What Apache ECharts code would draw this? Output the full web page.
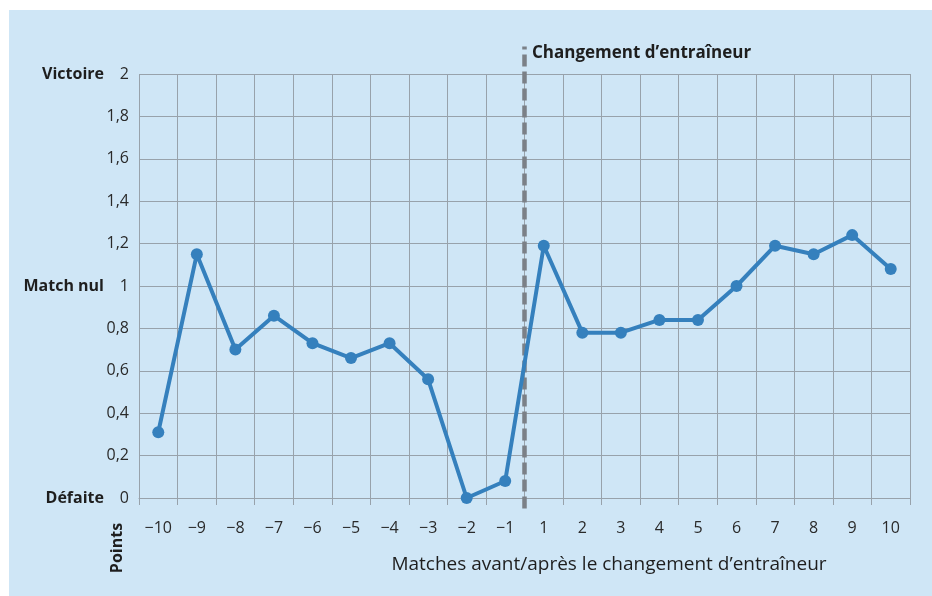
<!DOCTYPE html>
<html>
<head>
<meta charset="utf-8">
<script src="https://cdn.jsdelivr.net/npm/echarts@6/dist/echarts.min.js"></script>
<style>
  html, body { margin: 0; padding: 0; background: #ffffff; }
  #panel { position: absolute; left: 9px; top: 10px; width: 923px; height: 586px; background: #cfe6f6; }
  #main { position: absolute; left: 0; top: 0; width: 932px; height: 596px; }
</style>
</head>
<body>
<div id="panel"></div>
<div id="main"></div>
<script>
// ---- data ----
const categories = ['−10','−9','−8','−7','−6','−5','−4','−3','−2','−1','1','2','3','4','5','6','7','8','9','10'];
const points = [0.31, 1.15, 0.70, 0.86, 0.73, 0.66, 0.73, 0.56, 0.00, 0.08, 1.19, 0.78, 0.78, 0.84, 0.84, 1.00, 1.19, 1.15, 1.24, 1.08];
const yTicks = { min: 0, max: 2, interval: 0.2 };
const outcomeLabels = { 0: 'Défaite', 1: 'Match nul', 2: 'Victoire' };
const changeAt = 0;               // boundary between match −1 and match 1
const changeLineSpan = [-0.05, 2.13];
const changeLabel = 'Changement d’entraîneur';
const xTitle = 'Matches avant/après le changement d’entraîneur';
const yTitle = 'Points';

const FONT = 'Open Sans';
const gridColor = '#98a2ab';
const lineColor = '#3580bd';

const chart = echarts.init(document.getElementById('main'), null, { renderer: 'canvas' });
chart.setOption({
  backgroundColor: 'transparent',
  animation: false,
  textStyle: { fontFamily: FONT },
  grid: { left: 139, right: 22, top: 74, bottom: 98 },
  xAxis: [{
    type: 'category',
    data: categories,
    boundaryGap: true,
    axisLine: { show: true, lineStyle: { color: gridColor, width: 1 } },
    axisTick: { show: true, length: 7, lineStyle: { color: gridColor } },
    splitLine: { show: true, lineStyle: { color: gridColor, width: 1 } },
    axisLabel: { margin: 22, fontSize: 16, color: '#2a2a2a', fontFamily: FONT },
    name: xTitle,
    nameLocation: 'middle',
    nameGap: 57,
    nameTextStyle: { fontSize: 19, color: '#1e1e1e', fontFamily: FONT, padding: [0, 0, 0, 169] }
  }, {
    type: 'value',
    min: -10, max: 10,
    show: false
  }],
  yAxis: [{
    type: 'value',
    min: yTicks.min, max: yTicks.max, interval: yTicks.interval,
    axisLine: { show: true, lineStyle: { color: gridColor, width: 1 } },
    axisTick: { show: true, length: 5, lineStyle: { color: gridColor } },
    splitLine: { show: true, lineStyle: { color: gridColor, width: 1 } },
    axisLabel: {
      margin: 10, fontSize: 16, color: '#2a2a2a', fontFamily: FONT,
      formatter: v => String(Math.round(v * 10) / 10).replace('.', ',')
    }
  }, {
    type: 'value',
    position: 'left',
    min: yTicks.min, max: yTicks.max, interval: yTicks.interval,
    axisLine: { show: false }, axisTick: { show: false }, splitLine: { show: false },
    axisLabel: {
      margin: 35, fontSize: 16, fontWeight: 'bold', color: '#1e1e1e', fontFamily: FONT,
      formatter: v => { const k = Math.round(v * 10) / 10; return outcomeLabels[k] || ''; }
    }
  }],
  graphic: [{
    type: 'text',
    x: 117, y: 548,
    rotation: Math.PI / 2,
    style: { text: yTitle, fontSize: 16, fontWeight: 'bold', fontFamily: FONT, fill: '#1e1e1e', align: 'center', verticalAlign: 'middle' }
  }],
  series: [{
    type: 'line',
    xAxisIndex: 1, yAxisIndex: 0,
    clip: false,
    z: 1,
    symbol: 'circle', symbolSize: 1, showSymbol: true,
    itemStyle: { color: 'rgba(0,0,0,0)' },
    lineStyle: { color: '#7b8087', width: 4.5, type: [12, 5] },
    data: [
      { value: [changeAt, changeLineSpan[0]] },
      { value: [changeAt, changeLineSpan[1]],
        label: { show: true, position: 'right', distance: 7, offset: [0, 7], formatter: changeLabel,
                 fontSize: 17, fontWeight: 'bold', color: '#1e1e1e', fontFamily: FONT } }
    ],
    silent: true
  }, {
    type: 'line',
    xAxisIndex: 0, yAxisIndex: 0,
    z: 3,
    data: points,
    symbol: 'circle', symbolSize: 12,
    itemStyle: { color: lineColor },
    lineStyle: { color: lineColor, width: 4 }
  }]
});
</script>
</body>
</html>
